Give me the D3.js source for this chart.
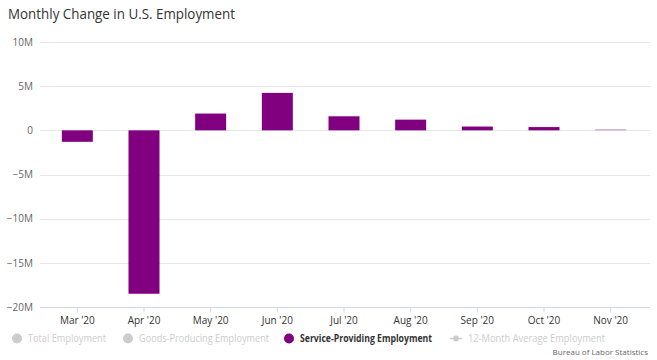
<!DOCTYPE html>
<html><head><meta charset="utf-8">
<script src="https://cdn.jsdelivr.net/npm/d3@7"></script>
<style>body{margin:0;background:#fff;} svg{display:block;font-family:"Open Sans",sans-serif;}</style>
</head><body>
<svg id="c" width="657" height="360"></svg>
<script>
const months = ["Mar '20","Apr '20","May '20","Jun '20","Jul '20","Aug '20","Sep '20","Oct '20","Nov '20"];
const serviceValues = [-1.3, -18.5, 1.9, 4.24, 1.59, 1.21, 0.43, 0.37, 0.12]; // millions
const yTicks = [-20, -15, -10, -5, 0, 5, 10];
const legendItems = ["Total Employment","Goods-Producing Employment","Service-Providing Employment","12-Month Average Employment"];

const svg = d3.select("#c");
const x = d3.scaleBand().domain(months).range([44, 644]).paddingInner(0.535).paddingOuter(0.2675);
const y = d3.scaleLinear().domain([-20, 10]).range([307, 42]);

svg.append("text").attr("x", 8).attr("y", 19).attr("font-size", 15).attr("fill", "#333")
  .attr("textLength", 227).attr("lengthAdjust", "spacingAndGlyphs").text("Monthly Change in U.S. Employment");

// grid
svg.append("g").selectAll("line").data(yTicks).join("line")
  .attr("x1", 40).attr("x2", 650).attr("y1", d => Math.round(y(d)) + 0.5).attr("y2", d => Math.round(y(d)) + 0.5)
  .attr("stroke", "#e6e6e6").attr("stroke-width", 1);

// y axis labels
const yAxis = d3.axisLeft(y).tickValues(yTicks).tickSize(0).tickPadding(0)
  .tickFormat(d => d === 0 ? "0" : d3.format("d")(d).replace("-", "−") + "M");
const gy = svg.append("g").attr("transform", "translate(33,0)").call(yAxis);
gy.select(".domain").remove();
gy.selectAll("text").attr("font-size", 10).attr("fill", "#666").attr("font-family", "Open Sans, sans-serif");

// bars
svg.append("g").selectAll("rect").data(months).join("rect")
  .attr("x", d => x(d)).attr("width", x.bandwidth())
  .attr("y", (d, i) => y(Math.max(0, serviceValues[i])))
  .attr("height", (d, i) => Math.abs(y(serviceValues[i]) - y(0)))
  .attr("fill", "#800080")
  .attr("opacity", (d, i) => i === months.length - 1 ? 0.4 : 1);

// x axis
const xAxis = d3.axisBottom(x).tickSize(5).tickPadding(4);
const gx = svg.append("g").attr("transform", "translate(0,307.5)").call(xAxis);
gx.select(".domain").attr("d", "M40,0H650").attr("stroke", "#ccd6eb");
gx.selectAll(".tick line").attr("stroke", "#ccd6eb");
gx.selectAll("text").attr("font-size", 10).attr("fill", "#333").attr("font-family", "Open Sans, sans-serif");

// legend
const lg = svg.append("g").attr("font-size", 10);
const lx = [17, 128, 289, 456];
const lw = [78, 130, 132, 137];
legendItems.forEach((t, i) => {
  const active = i === 2;
  const col = active ? "#800080" : "#cccccc";
  if (i === 3) {
    lg.append("line").attr("x1", lx[i] - 6).attr("x2", lx[i] + 6).attr("y1", 338.5).attr("y2", 338.5).attr("stroke", col).attr("stroke-width", 1.5);
    lg.append("circle").attr("cx", lx[i]).attr("cy", 338.5).attr("r", 3).attr("fill", col);
  } else {
    lg.append("circle").attr("cx", lx[i]).attr("cy", 338.5).attr("r", 5).attr("fill", col);
  }
  lg.append("text").attr("x", lx[i] + (i === 3 ? 12 : 11)).attr("y", 342)
    .attr("font-weight", active ? "bold" : "normal")
    .attr("textLength", lw[i]).attr("lengthAdjust", "spacingAndGlyphs")
    .attr("fill", active ? "#333" : "#cccccc").text(t);
});

svg.append("text").attr("x", 648).attr("y", 355).attr("text-anchor", "end").attr("font-size", 8).attr("fill", "#666").text("Bureau of Labor Statistics");
</script>
</body></html>
